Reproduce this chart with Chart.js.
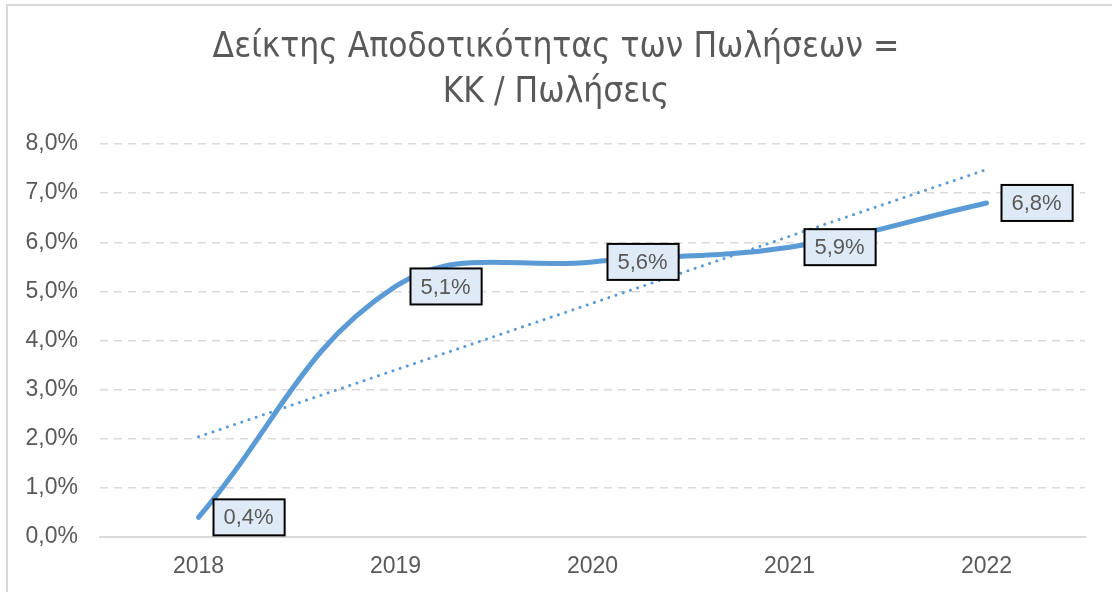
<!DOCTYPE html>
<html>
<head>
<meta charset="utf-8">
<script src="https://cdn.jsdelivr.net/npm/chart.js@4"></script>
<style>
  html, body { margin: 0; padding: 0; background: #fff; }
  #wrap { position: relative; width: 1112px; height: 592px; }
  #frame { position: absolute; left: 6px; top: 4px; right: 0; bottom: 0;
           border-left: 2px solid #d9d9d9; border-top: 2px solid #d9d9d9; }
  canvas { position: absolute; left: 0; top: 0; }
</style>
</head>
<body>
<div id="wrap">
  <div id="frame"></div>
  <canvas id="myChart" width="1112" height="592"></canvas>
</div>
<script>
// chart data
const years = ["2018", "2019", "2020", "2021", "2022"];
const ratio = [0.4, 5.1, 5.6, 5.9, 6.8];           // % values
const trend = [2.04, 3.40, 4.76, 6.12, 7.48];        // dotted trend line
const yTicks = [0, 1, 2, 3, 4, 5, 6, 7, 8];
const titleLines = ["Δείκτης Αποδοτικότητας των Πωλήσεων =", "ΚΚ / Πωλήσεις"];

const fmt = (v) => v.toFixed(1).replace(".", ",") + "%";

// boxed data labels, placed right of each point
const boxLabels = {
  id: "boxLabels",
  afterDatasetsDraw(chart) {
    const c = chart.ctx;
    const meta = chart.getDatasetMeta(0);
    c.save();
    c.font = "22px 'Liberation Sans', Arial, sans-serif";
    c.textBaseline = "middle";
    meta.data.forEach((pt, i) => {
      const txt = fmt(ratio[i]);
      const w = c.measureText(txt).width + 21;
      const h = 36;
      const x = pt.x + 15;
      const y = pt.y - h / 2;
      c.fillStyle = "#deebf7";
      c.fillRect(x, y, w, h);
      c.lineWidth = 2;
      c.strokeStyle = "#000";
      c.strokeRect(x, y, w, h);
      c.fillStyle = "#595959";
      c.fillText(txt, x + 10, pt.y + 1);
    });
    c.restore();
  },
};

const ctx = document.getElementById("myChart").getContext("2d");
const myChart = new Chart(ctx, {
  type: "line",
  data: {
    labels: years,
    datasets: [
      {
        label: "ratio",
        data: ratio,
        borderColor: "#5b9bd5",
        borderWidth: 5,
        borderCapStyle: "round",
        tension: 0.4,
        pointRadius: 0,
        fill: false,
      },
      {
        label: "trend",
        data: trend,
        borderColor: "#5b9bd5",
        borderWidth: 3,
        borderDash: [0.1, 7.5],
        borderCapStyle: "round",
        tension: 0,
        pointRadius: 0,
        fill: false,
      },
    ],
  },
  options: {
    responsive: false,
    animation: false,
    layout: { padding: 0 },
    plugins: {
      legend: { display: false },
      tooltip: { enabled: false },
      title: {
        display: true,
        text: titleLines,
        color: "#595959",
        font: { family: "'Liberation Sans Narrow', 'DejaVu Sans Condensed', sans-serif", size: 35, weight: "normal", lineHeight: 1.3 },
        padding: { top: 25, bottom: 28 },
      },
    },
    scales: {
      x: {
        offset: true,
        grid: { display: false, drawTicks: false },
        border: { display: true, color: "#d9d9d9", width: 2 },
        ticks: {
          color: "#595959",
          font: { family: "'Liberation Sans', Arial, sans-serif", size: 23 },
          padding: 16,
        },
        afterFit(scale) { scale.height = 55; },
      },
      y: {
        min: 0,
        max: 8,
        afterBuildTicks(scale) { scale.ticks = yTicks.map((v) => ({ value: v })); },
        grid: {
          color: (c) => (c.tick.value === 0 ? "transparent" : "#d9d9d9"),
          lineWidth: 1.5,
          drawTicks: false,
        },
        border: { display: false, dash: [8, 6] },
        ticks: {
          color: "#595959",
          font: { family: "'Liberation Sans', Arial, sans-serif", size: 23 },
          padding: 22,
          callback: (v) => fmt(v),
        },
        afterFit(scale) { scale.width = 100; },
      },
      // empty right-hand spacer so the plot stops short of the edge
      yRight: {
        position: "right",
        min: 0,
        max: 8,
        grid: { display: false, drawTicks: false },
        border: { display: false },
        ticks: { display: false },
        afterFit(scale) { scale.width = 27; },
      },
    },
  },
  plugins: [boxLabels],
});
</script>
</body>
</html>
